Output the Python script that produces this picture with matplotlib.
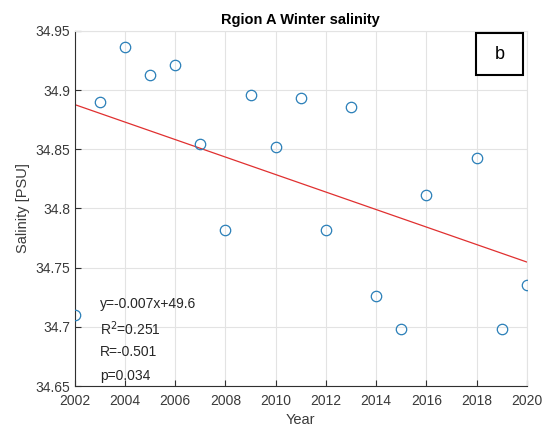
import numpy as np
from matplotlib import pyplot as plt
from matplotlib.patches import Rectangle

# winter salinity series, region A
years = [2002, 2003, 2004, 2005, 2006, 2007, 2008, 2009, 2010, 2011,
         2012, 2013, 2014, 2015, 2016, 2018, 2019, 2020]
salinity = [34.710, 34.890, 34.936, 34.913, 34.921, 34.854, 34.782, 34.896, 34.852,
            34.893, 34.782, 34.886, 34.726, 34.698, 34.811, 34.843, 34.698, 34.735]
stats = ['y=-0.007x+49.6', 'R$^2$=0.251', 'R=-0.501', 'p=0.034']

plt.rcParams['font.family'] = ['Liberation Sans', 'DejaVu Sans']

fig = plt.figure(figsize=(5.46, 4.28), dpi=100)
ax = fig.add_axes([0.137, 0.098, 0.828, 0.830])

# linear trend
coef = np.polyfit(years, salinity, 1)
xfit = np.array([2002, 2020])
ax.plot(xfit, np.polyval(coef, xfit), color='#e03030', lw=0.9, zorder=2)

ax.plot(years, salinity, 'o', mfc='none', mec='#2a7fb8', ms=7.5, mew=0.9, zorder=3)

ax.set_xlim(2002, 2020)
ax.set_ylim(34.65, 34.95)
ax.set_xticks(np.arange(2002, 2021, 2))
ax.set_yticks([34.65, 34.7, 34.75, 34.8, 34.85, 34.9, 34.95])
ax.set_yticklabels(['34.65', '34.7', '34.75', '34.8', '34.85', '34.9', '34.95'])
ax.grid(True, color='#e3e3e3', lw=0.8)
ax.set_axisbelow(True)
for s in ['top', 'right']:
    ax.spines[s].set_color('#e3e3e3')
for s in ['left', 'bottom']:
    ax.spines[s].set_color('#303030')
    ax.spines[s].set_linewidth(0.8)
ax.tick_params(direction='in', length=4, labelsize=10, colors='#303030',
               labelcolor='#3a3a3a', width=0.8)
ax.tick_params(axis='x', pad=6)

ax.set_xlabel('Year', fontsize=10.5, color='#3a3a3a', labelpad=3)
ax.set_ylabel('Salinity [PSU]', fontsize=10.5, color='#3a3a3a', labelpad=4)
ax.set_title('Rgion A Winter salinity', fontsize=10.5, fontweight='bold', pad=5)

for i, s in enumerate(stats):
    ax.text(2003, 34.719 - i * 0.0203, s, fontsize=10, color='#262626', va='center')

# panel letter box
ax.add_patch(Rectangle((0.887, 0.875), 0.104, 0.118, transform=ax.transAxes,
                       fill=True, fc='white', ec='black', lw=1.5, zorder=5))
ax.text(0.94, 0.932, 'b', transform=ax.transAxes, fontsize=13,
        ha='center', va='center', zorder=6)

fig.savefig('out.png', dpi=100)
